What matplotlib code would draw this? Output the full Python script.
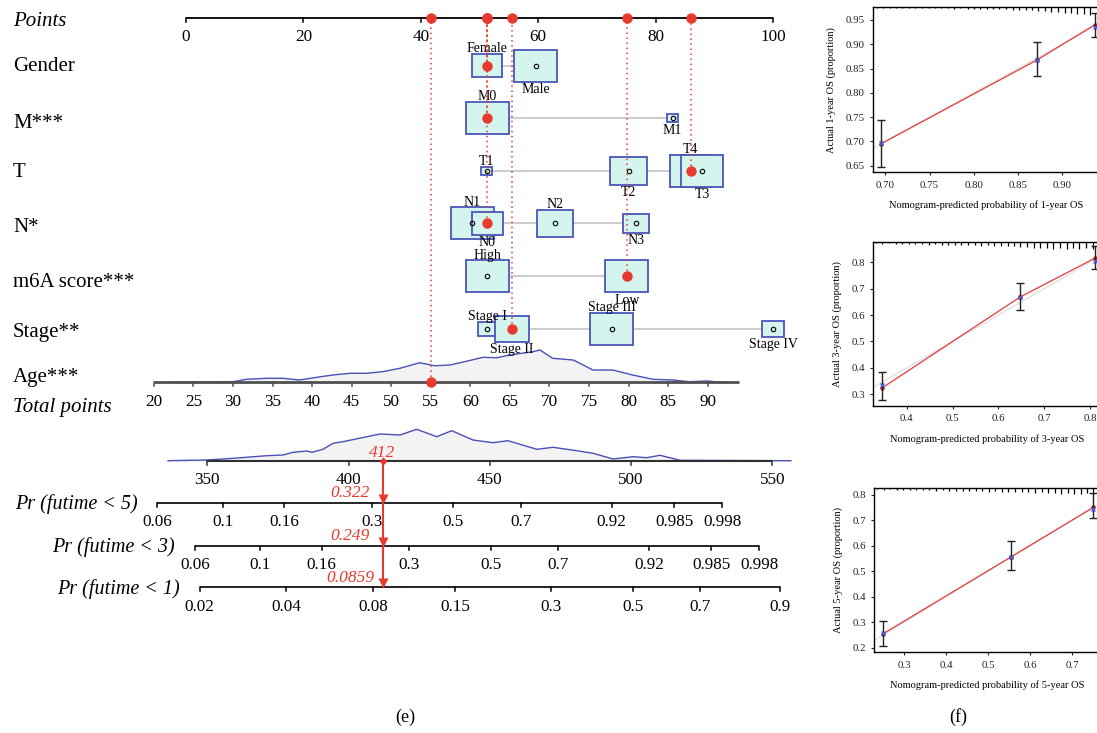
import numpy as np
import matplotlib.pyplot as plt
from matplotlib.patches import Rectangle

plt.rcParams['font.family'] = ['Liberation Serif', 'DejaVu Serif']

RED = '#e8392f'
BOX_EDGE = '#4b55b9'
BOX_FACE = '#d4f4ee'
CURVE = '#4b50b8'

# ---- nomogram data: levels ordered by points, points per level, relative box size ----
gender_levels = ['Female', 'Male']
gender_points = [51.3, 59.6]
gender_sizes = [0.71, 1.0]

m_levels = ['M0', 'M1']
m_points = [51.3, 82.9]
m_sizes = [1.0, 0.25]

t_levels = ['T1', 'T2', 'T4', 'T3']
t_points = [51.2, 75.4, 86.0, 87.9]
t_sizes = [0.27, 0.85, 0.99, 0.99]

n_levels = ['N1', 'N0', 'N2', 'N3']
n_points = [48.8, 51.3, 62.9, 76.6]
n_sizes = [1.0, 0.72, 0.83, 0.6]

m6a_levels = ['High', 'Low']
m6a_points = [51.3, 75.1]
m6a_sizes = [1.0, 1.0]

stage_levels = ['Stage I', 'Stage II', 'Stage III', 'Stage IV']
stage_points = [51.3, 55.5, 72.5, 100.0]
stage_sizes = [0.43, 0.8, 1.0, 0.49]

# patient shown on the nomogram
patient = {'Gender': 'Female', 'M': 'M0', 'T': 'T4', 'N': 'N0',
           'm6A': 'Low', 'Stage': 'Stage II'}
patient_age = 55

# age scale: points at age 55 and points per year
age_ref, age_ref_points, age_slope = 55, 41.7, 1.348
age_ticks = [20, 25, 30, 35, 40, 45, 50, 55, 60, 65, 70, 75, 80, 85, 90]
age_range = (20, 94)
age_dens_x = [22.7, 30.0, 31.7, 34.2, 36.3, 38.4, 40.6, 42.6, 44.8, 46.9, 48.9,
              51.1, 53.6, 55.5, 57.4, 59.5, 61.6, 63.3, 65.0, 67.9, 68.8, 70.4,
              73.0, 75.5, 78.0, 80.5, 83.1, 85.6, 87.7, 89.9, 91.9]
age_dens_y = [0, 0.6, 3, 4, 4, 2.3, 5, 7.3, 9, 9, 10.6,
              14, 19.6, 16.5, 17.3, 21, 25, 24.5, 27.3, 30.6, 32.3, 24,
              22.3, 12.3, 12.3, 7.3, 3, 2.3, 0.6, 1.3, 0]

# total points scale
total_ticks = [350, 400, 450, 500, 550]
total_ref, total_ref_points, total_slope = 350, 3.63, 0.4814
total_dens_x = [336.1, 349.9, 359.1, 371.1, 376.8, 380.3, 385.3, 387.0, 390.9,
                394.5, 398.0, 406.5, 411.1, 418.2, 424.1, 431.2, 436.5, 444.0,
                451.1, 456.4, 466.6, 472.3, 480.7, 486.5, 493.6, 500.7, 505.5,
                510.2, 517.3, 556.5]
total_dens_y = [0, 0.7, 2.4, 5, 5.7, 8.4, 9.7, 8.4, 11.4, 17.4, 19, 24, 26.7,
                25.7, 31.4, 24, 30, 20.7, 18, 20, 11.4, 13.4, 10, 7.4, 1.7, 4,
                3, 5.4, 0.4, 0]

# survival probability scales (cloglog link, total points per unit of linear predictor)
lp_scale = 43.35
pr_titles = ['Pr (futime < 5)', 'Pr (futime < 3)', 'Pr (futime < 1)']
pr_at_patient = [0.322, 0.249, 0.0859]
pr_labels = ['0.322', '0.249', '0.0859']
pr_ticks = [[0.06, 0.1, 0.16, 0.3, 0.5, 0.7, 0.92, 0.985, 0.998],
            [0.06, 0.1, 0.16, 0.3, 0.5, 0.7, 0.92, 0.985, 0.998],
            [0.02, 0.04, 0.08, 0.15, 0.3, 0.5, 0.7, 0.9]]

# ---- calibration data ----
cal_pred = [[0.695, 0.872, 0.937], [0.347, 0.647, 0.810], [0.250, 0.555, 0.750]]
cal_obs = [[0.697, 0.868, 0.935], [0.335, 0.670, 0.805], [0.257, 0.557, 0.745]]
cal_app = [[0.695, 0.868, 0.940], [0.325, 0.668, 0.815], [0.255, 0.557, 0.750]]
cal_lo = [[0.648, 0.835, 0.915], [0.280, 0.620, 0.773], [0.205, 0.503, 0.707]]
cal_hi = [[0.745, 0.905, 0.965], [0.385, 0.722, 0.860], [0.305, 0.617, 0.805]]
cal_years = [1, 3, 5]
rug_x = [
    [0.690, 0.697, 0.705, 0.712, 0.719, 0.727, 0.734, 0.741, 0.749, 0.756, 0.763,
     0.771, 0.778, 0.785, 0.793, 0.800, 0.807, 0.815, 0.822, 0.829, 0.837, 0.844,
     0.851, 0.859, 0.866, 0.873, 0.881, 0.888, 0.895, 0.903, 0.910, 0.917, 0.925,
     0.932],
    [0.333, 0.347, 0.361, 0.376, 0.390, 0.405, 0.419, 0.433, 0.448, 0.462, 0.476,
     0.491, 0.505, 0.519, 0.534, 0.548, 0.562, 0.577, 0.591, 0.605, 0.620, 0.634,
     0.648, 0.663, 0.677, 0.691, 0.706, 0.720, 0.734, 0.749, 0.763, 0.777, 0.792,
     0.806],
    [0.235, 0.251, 0.266, 0.282, 0.298, 0.313, 0.329, 0.345, 0.360, 0.376, 0.392,
     0.407, 0.423, 0.439, 0.454, 0.470, 0.486, 0.501, 0.517, 0.533, 0.548, 0.564,
     0.580, 0.595, 0.611, 0.627, 0.642, 0.658, 0.674, 0.689, 0.705, 0.721, 0.736,
     0.749],
]
rug_n = [
    [1, 1, 1, 1, 1, 1, 1, 1, 1, 1, 1, 1, 2, 1, 2, 2, 2, 2, 2, 2, 2, 3, 3, 3, 3, 4,
     4, 5, 5, 6, 6, 7, 7, 8],
    [1, 2, 1, 2, 2, 2, 2, 2, 3, 2, 3, 3, 3, 3, 3, 3, 4, 3, 4, 4, 4, 4, 5, 5, 6, 6,
     6, 7, 6, 7, 6, 7, 6, 7],
    [1, 2, 1, 2, 2, 2, 2, 2, 2, 3, 2, 3, 3, 3, 3, 3, 3, 4, 3, 4, 4, 4, 4, 4, 5, 4,
     5, 5, 6, 5, 6, 6, 5, 7],
]
cal_xlim = [(0.6857, 0.9429), (0.327, 0.8218), (0.2286, 0.766)]
cal_ylim = [(0.6364, 0.976), (0.2557, 0.878), (0.182, 0.8275)]
cal_xticks = [[0.70, 0.75, 0.80, 0.85, 0.90], [0.4, 0.5, 0.6, 0.7, 0.8],
              [0.3, 0.4, 0.5, 0.6, 0.7]]
cal_yticks = [[0.65, 0.70, 0.75, 0.80, 0.85, 0.90, 0.95],
              [0.3, 0.4, 0.5, 0.6, 0.7, 0.8],
              [0.2, 0.3, 0.4, 0.5, 0.6, 0.7, 0.8]]
cal_fmt = ['{:.2f}', '{:.1f}', '{:.1f}']


def age_to_points(a):
    return age_ref_points + age_slope * (np.asarray(a, float) - age_ref)


def total_to_points(t):
    return total_ref_points + total_slope * (np.asarray(t, float) - total_ref)


def cloglog(p):
    return np.log(-np.log(1 - np.asarray(p, float)))


# ---- figure ----
W, H = 1097, 733
fig = plt.figure(figsize=(W / 100, H / 100), dpi=100)

PX_PER_PT = 5.87   # pixels per nomogram point
ORIGIN = 186       # pixel column of 0 points
ax = fig.add_axes([0, 0, 800 / W, 1])
ax.set_xlim(-ORIGIN / PX_PER_PT, (800 - ORIGIN) / PX_PER_PT)
ax.set_ylim(H, 0)
ax.axis('off')


def px(x):
    return (x - ORIGIN) / PX_PER_PT


def scale_axis(y, positions, labels, color='black', lw=1.3, start=None, end=None):
    lo = positions[0] if start is None else start
    hi = positions[-1] if end is None else end
    ax.plot([lo, hi], [y, y], color=color, lw=lw, solid_capstyle='butt', zorder=3)
    for xp, lab in zip(positions, labels):
        ax.plot([xp, xp], [y, y + 4], color=color, lw=1.1, zorder=3)
        ax.text(xp, y + 23.3, lab, ha='center', va='baseline', fontsize=12.3)


LABEL_X = px(13)
points_y = 17.5

ax.text(LABEL_X, 26, 'Points', fontsize=15, style='italic', va='baseline')
pt_ticks = [0, 20, 40, 60, 80, 100]
scale_axis(points_y, pt_ticks, [str(v) for v in pt_ticks])

rows = [
    ('Gender', 'Gender', gender_levels, gender_points, gender_sizes, 65.5, 70.7),
    ('M***', 'M', m_levels, m_points, m_sizes, 118.3, 127.7),
    ('T', 'T', t_levels, t_points, t_sizes, 171.0, 176.7),
    ('N*', 'N', n_levels, n_points, n_sizes, 223.3, 231.7),
    ('m6A score***', 'm6A', m6a_levels, m6a_points, m6a_sizes, 276.3, 286.7),
    ('Stage**', 'Stage', stage_levels, stage_points, stage_sizes, 328.7, 336.7),
]

BOX_W, BOX_H = 43 / PX_PER_PT, 32
chosen_points = []
for title, key, levels, pts, sizes, y, base in rows:
    ax.text(LABEL_X, base, title, fontsize=15, va='baseline')
    ax.plot([min(pts), max(pts)], [y, y], color='#c8c8c8', lw=1.3, zorder=1)
    for i, (lev, p, s) in enumerate(zip(levels, pts, sizes)):
        w, h = BOX_W * s, BOX_H * s
        ax.add_patch(Rectangle((p - w / 2, y - h / 2), w, h, facecolor=BOX_FACE,
                               edgecolor=BOX_EDGE, lw=1.3, zorder=2 + i * 0.01))
        ax.plot(p, y, 'o', ms=3.2, mfc='none', mec='black', mew=0.8, zorder=3)
        if i % 2 == 0:
            ax.text(p, y - h / 2 - 1.8, lev, ha='center', va='baseline', fontsize=10)
        else:
            ax.text(p, y + h / 2 + 11.5, lev, ha='center', va='baseline', fontsize=10)
        if lev == patient[key]:
            chosen_points.append(p)
            ax.plot([p, p], [y, points_y], color=RED, lw=1.1, ls=(0, (1, 2.3)), zorder=4)
            ax.plot(p, y, 'o', ms=7.5, color=RED, mec='none', zorder=6)

# age scale with its density
age_y = 382.3
ax.text(LABEL_X, 381.7, 'Age***', fontsize=15, va='baseline')
dx = age_to_points(age_dens_x)
dy = age_y - np.array(age_dens_y)
ax.fill_between(dx, dy, age_y, color='#f3f3f3', zorder=1)
ax.plot(dx, dy, color=CURVE, lw=1.0, zorder=2)
scale_axis(age_y, age_to_points(age_ticks), [str(a) for a in age_ticks], color='#505050',
           lw=2.0, start=age_to_points(age_range[0]), end=age_to_points(age_range[1]))
age_pts = float(age_to_points(patient_age))
chosen_points.append(age_pts)
ax.plot([age_pts, age_pts], [age_y, points_y], color=RED, lw=1.1, ls=(0, (1, 2.3)), zorder=4)
ax.plot(age_pts, age_y, 'o', ms=7.5, color=RED, mec='none', zorder=6)

for p in chosen_points:
    ax.plot(p, points_y, 'o', ms=7.5, color=RED, mec='none', zorder=6)

# total points
total_y = 460.7
ax.text(LABEL_X, 411.7, 'Total points', fontsize=15, style='italic', va='baseline')
tx = total_to_points(total_dens_x)
ty = total_y - np.array(total_dens_y)
ax.fill_between(tx, ty, total_y, color='#f3f3f3', zorder=1)
ax.plot(tx, ty, color=CURVE, lw=1.0, zorder=2)
scale_axis(total_y, total_to_points(total_ticks), [str(t) for t in total_ticks],
           color='#303030', lw=1.5)

total = round(sum(chosen_points))
arrow_x = float(total_to_points(total))

# probability scales
pr_y = [502.7, 545.7, 587.3]
for title, p0, ticks, y, lab in zip(pr_titles, pr_at_patient, pr_ticks, pr_y, pr_labels):
    tick_tot = total + (cloglog(ticks) - cloglog(p0)) * lp_scale
    tick_pts = total_to_points(tick_tot)
    scale_axis(y, tick_pts, [f'{t:g}' for t in ticks], lw=1.2)
    ax.text(tick_pts[0] - 19.5 / PX_PER_PT, y + 6.5, title, fontsize=14.5,
            style='italic', ha='right', va='baseline')
    ax.plot(arrow_x, y - 4, 'v', ms=7, color=RED, mec='none', zorder=6)
    ax.text(arrow_x - 32 / PX_PER_PT, y - 5.8, lab, color=RED, fontsize=12.5,
            style='italic', ha='center', va='baseline')

ax.plot([arrow_x, arrow_x], [total_y, pr_y[-1] - 4], color=RED, lw=1.5, zorder=5)
ax.plot(arrow_x, total_y, 'D', ms=4.5, color=RED, mec='none', zorder=6)
ax.text(arrow_x, total_y - 4, str(total), color=RED, fontsize=12.5, style='italic',
        ha='center', va='baseline')

fig.text(405 / W, 1 - 717 / H, '(e)', ha='center', va='center', fontsize=13)
fig.text(958 / W, 1 - 717 / H, '(f)', ha='center', va='center', fontsize=13)

# ---- calibration curves ----
cal_box = [(872.7, 7.3, 172.3), (873.3, 241.7, 406.0), (874.3, 487.7, 652.3)]
for k, (left, top, bottom) in enumerate(cal_box):
    cax = fig.add_axes([left / W, 1 - bottom / H, (1100 - left) / W, (bottom - top) / H])
    cax.set_xlim(*cal_xlim[k])
    cax.set_ylim(*cal_ylim[k])
    lim = [min(cal_xlim[k][0], cal_ylim[k][0]), max(cal_xlim[k][1], cal_ylim[k][1])]
    cax.plot(lim, lim, color='#e2e2e2', lw=1.0, zorder=1)
    cax.plot(cal_pred[k], cal_app[k], color='#e23b3b', lw=0.9, zorder=2)
    cax.plot(cal_pred[k], cal_app[k], 'o', ms=2.2, color='#b02020', zorder=3)
    obs = np.array(cal_obs[k])
    err = [obs - np.array(cal_lo[k]), np.array(cal_hi[k]) - obs]
    cax.errorbar(cal_pred[k], obs, yerr=err, fmt='none', ecolor='#222222', elinewidth=1.0,
                 capsize=2.6, capthick=1.0, zorder=3)
    cax.plot(cal_pred[k], obs, 'x', ms=3.5, mew=1.0, color='#4a5ad0', zorder=4)
    hpx = bottom - top
    cax.vlines(rug_x[k], 1, 1 - np.array(rug_n[k]) / hpx, color='black', lw=0.9,
               transform=cax.get_xaxis_transform(), zorder=2)
    cax.set_xticks(cal_xticks[k])
    cax.set_xticklabels([cal_fmt[k].format(v) for v in cal_xticks[k]])
    cax.set_yticks(cal_yticks[k])
    cax.set_yticklabels([cal_fmt[k].format(v) for v in cal_yticks[k]])
    cax.tick_params(labelsize=7.8, length=2.5, width=0.8, colors='#222222')
    for s in cax.spines.values():
        s.set_linewidth(1.0)
    yr = cal_years[k]
    cax.set_xlabel(f'Nomogram-predicted probability of {yr}-year OS', fontsize=7.5,
                   labelpad=8)
    cax.set_ylabel(f'Actual {yr}-year OS (proportion)', fontsize=7.5, labelpad=7)

fig.savefig('out.png', dpi=100)
